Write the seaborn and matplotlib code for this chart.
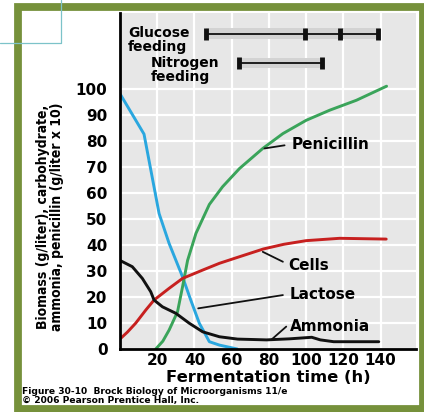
import matplotlib
matplotlib.use("Agg")
import matplotlib.pyplot as plt
from matplotlib.patches import Rectangle
from matplotlib.lines import Line2D
import pandas as pd
import seaborn as sns

# Fermentation time (h) and concentrations for each series
lactose_t = [0, 12.9, 21, 26.4, 33.6, 38, 42.6, 48, 53.4, 63]
lactose_v = [98, 82.5, 52, 40.5, 27.7, 18.8, 9.9, 2.8, 1.5, 0]

penicillin_t = [19.2, 23, 26.4, 30.9, 33.6, 36.3, 40.8, 48, 55.1, 64.2, 76.7, 87.5, 100, 112.7, 127, 143.2]
penicillin_v = [0, 3, 7.3, 14.3, 23.9, 34, 44.4, 55.5, 62.3, 69.3, 77, 82.7, 87.8, 91.7, 95.5, 100.9]

cells_t = [0.4, 4, 8.4, 13.9, 18.3, 26.4, 33.6, 44.4, 53.4, 63.2, 77, 88, 100, 118, 143]
cells_v = [4.1, 6.5, 9.9, 15, 18.8, 23.3, 27.1, 30.3, 32.9, 35.2, 38.4, 40.2, 41.6, 42.5, 42.2]

ammonia_t = [0, 6.6, 12, 16.5, 18.3, 22.8, 30, 37.2, 44.4, 53.4, 63.2, 78.7, 91, 103, 107.6, 114.8, 139]
ammonia_v = [34, 31.6, 27.1, 22, 18.8, 16.2, 13.7, 9.9, 6.6, 4.7, 3.8, 3.5, 3.9, 4.5, 3.5, 2.8, 2.8]

# Feeding schedules (h)
glucose_marks = [46.2, 99.2, 118, 138.7]
nitrogen_marks = [63.8, 108.7]

x_ticks = [20, 40, 60, 80, 100, 120, 140]
y_ticks = [0, 10, 20, 30, 40, 50, 60, 70, 80, 90, 100]

series_names = ["Lactose", "Penicillin", "Cells", "Ammonia"]
series_colors = ["#2aa7df", "#3aa45a", "#c7201f", "#111111"]

frames = []
for name, t, v in zip(series_names,
                      [lactose_t, penicillin_t, cells_t, ammonia_t],
                      [lactose_v, penicillin_v, cells_v, ammonia_v]):
    frames.append(pd.DataFrame({"time": t, "value": v, "series": name}))
df = pd.concat(frames, ignore_index=True)

sns.set_theme(style="whitegrid", rc={
    "axes.facecolor": "#e7e7e7",
    "grid.color": "white",
    "grid.linewidth": 1.6,
    "axes.edgecolor": "black",
    "text.color": "black",
    "xtick.color": "black",
    "ytick.color": "black",
})
plt.rcParams["font.family"] = ["DejaVu Sans"]

W, H = 424, 412
fig = plt.figure(figsize=(W / 100, H / 100), dpi=100)
fig.patch.set_facecolor("white")
ax = fig.add_axes([120 / W, 1 - 349 / H, (416 - 120) / W, (349 - 13) / H])

sns.lineplot(data=df, x="time", y="value", hue="series",
             palette=dict(zip(series_names, series_colors)),
             estimator=None, sort=False, linewidth=2.1, legend=False, ax=ax)

ax.set_xlim(0, 159)
ax.set_ylim(0, 129)
ax.set_xticks(x_ticks)
ax.set_yticks(y_ticks)
ax.set_xticklabels([str(v) for v in x_ticks], fontsize=11, fontweight="bold")
ax.set_yticklabels([str(v) for v in y_ticks], fontsize=11, fontweight="bold")
ax.tick_params(axis="both", length=0, labelcolor="black")
ax.tick_params(axis="y", pad=9)
ax.tick_params(axis="x", pad=3)
ax.set_xlabel("")
ax.set_ylabel("")
for side in ["top", "right"]:
    ax.spines[side].set_visible(False)
for side in ["left", "bottom"]:
    ax.spines[side].set_linewidth(2.0)
    ax.spines[side].set_color("black")
ax.grid(True, axis="both")
ax.axvline(160, color="white", lw=1.6)

# Feeding schedule bars
def feeding_bar(marks, y):
    ax.add_patch(Rectangle((marks[0], y - 2.1), marks[-1] - marks[0] + 1, 4.2,
                           facecolor="#d3d3d3", edgecolor="none", zorder=2))
    ax.plot([marks[0], marks[-1]], [y, y], color="#111111", lw=1.3, zorder=3)
    ax.plot(marks, [y] * len(marks), linestyle="none", marker="|", markersize=8,
            markeredgewidth=3.5, color="#111111", zorder=4)

feeding_bar(glucose_marks, 121.1)
feeding_bar(nitrogen_marks, 109.8)
ax.text(4.3, 118.8, "Glucose\nfeeding", fontsize=10, fontweight="bold", va="center", ha="left",
        linespacing=1.0)
ax.text(16.5, 107.3, "Nitrogen\nfeeding", fontsize=10, fontweight="bold", va="center", ha="left",
        linespacing=1.0)

# Curve labels with leader lines
labels = [
    ("Penicillin", (77.6, 77.0), (88.4, 78.2), (92, 78.6)),
    ("Cells", (76.7, 37.3), (87.5, 33.5), (90.6, 32.2)),
    ("Lactose", (42.0, 15.6), (87.5, 20.7), (91.1, 20.9)),
    ("Ammonia", (81.2, 3.5), (89.3, 8.6), (91.1, 8.8)),
]
for text, p0, p1, pt in labels:
    ax.plot([p0[0], p1[0]], [p0[1], p1[1]], color="#111111", lw=1.3, zorder=5)
    ax.text(pt[0], pt[1], text, fontsize=11, fontweight="bold", va="center", ha="left")

fig.text(268 / W, 1 - 377 / H, "Fermentation time (h)", fontsize=11.8, fontweight="bold",
         ha="center", va="center")
fig.text(50 / W, 1 - 217 / H,
         "Biomass (g/liter), carbohydrate,\nammonia, penicillin (g/liter x 10)",
         rotation=90, fontsize=10, fontweight="bold", fontstretch="condensed",
         ha="center", va="center", linespacing=1.05)
fig.text(22 / W, 1 - 391 / H, "Figure 30-10  Brock Biology of Microorganisms 11/e",
         fontsize=6.6, fontweight="bold", ha="left", va="center")
fig.text(22 / W, 1 - 401 / H, "\u00a9 2006 Pearson Prentice Hall, Inc.",
         fontsize=6.6, fontweight="bold", ha="left", va="center")

# Frame around the figure
fig.add_artist(Rectangle((18 / W, 1 - 409 / H), (423 - 18) / W, (409 - 7) / H,
                         transform=fig.transFigure, facecolor="none",
                         edgecolor="#76913b", linewidth=5.6, zorder=0))
fig.add_artist(Line2D([0, 61 / W, 61 / W], [1 - 43 / H, 1 - 43 / H, 1.0],
                      transform=fig.transFigure, color="#7cc3c9", lw=0.9))

fig.savefig("out.png", dpi=100)
